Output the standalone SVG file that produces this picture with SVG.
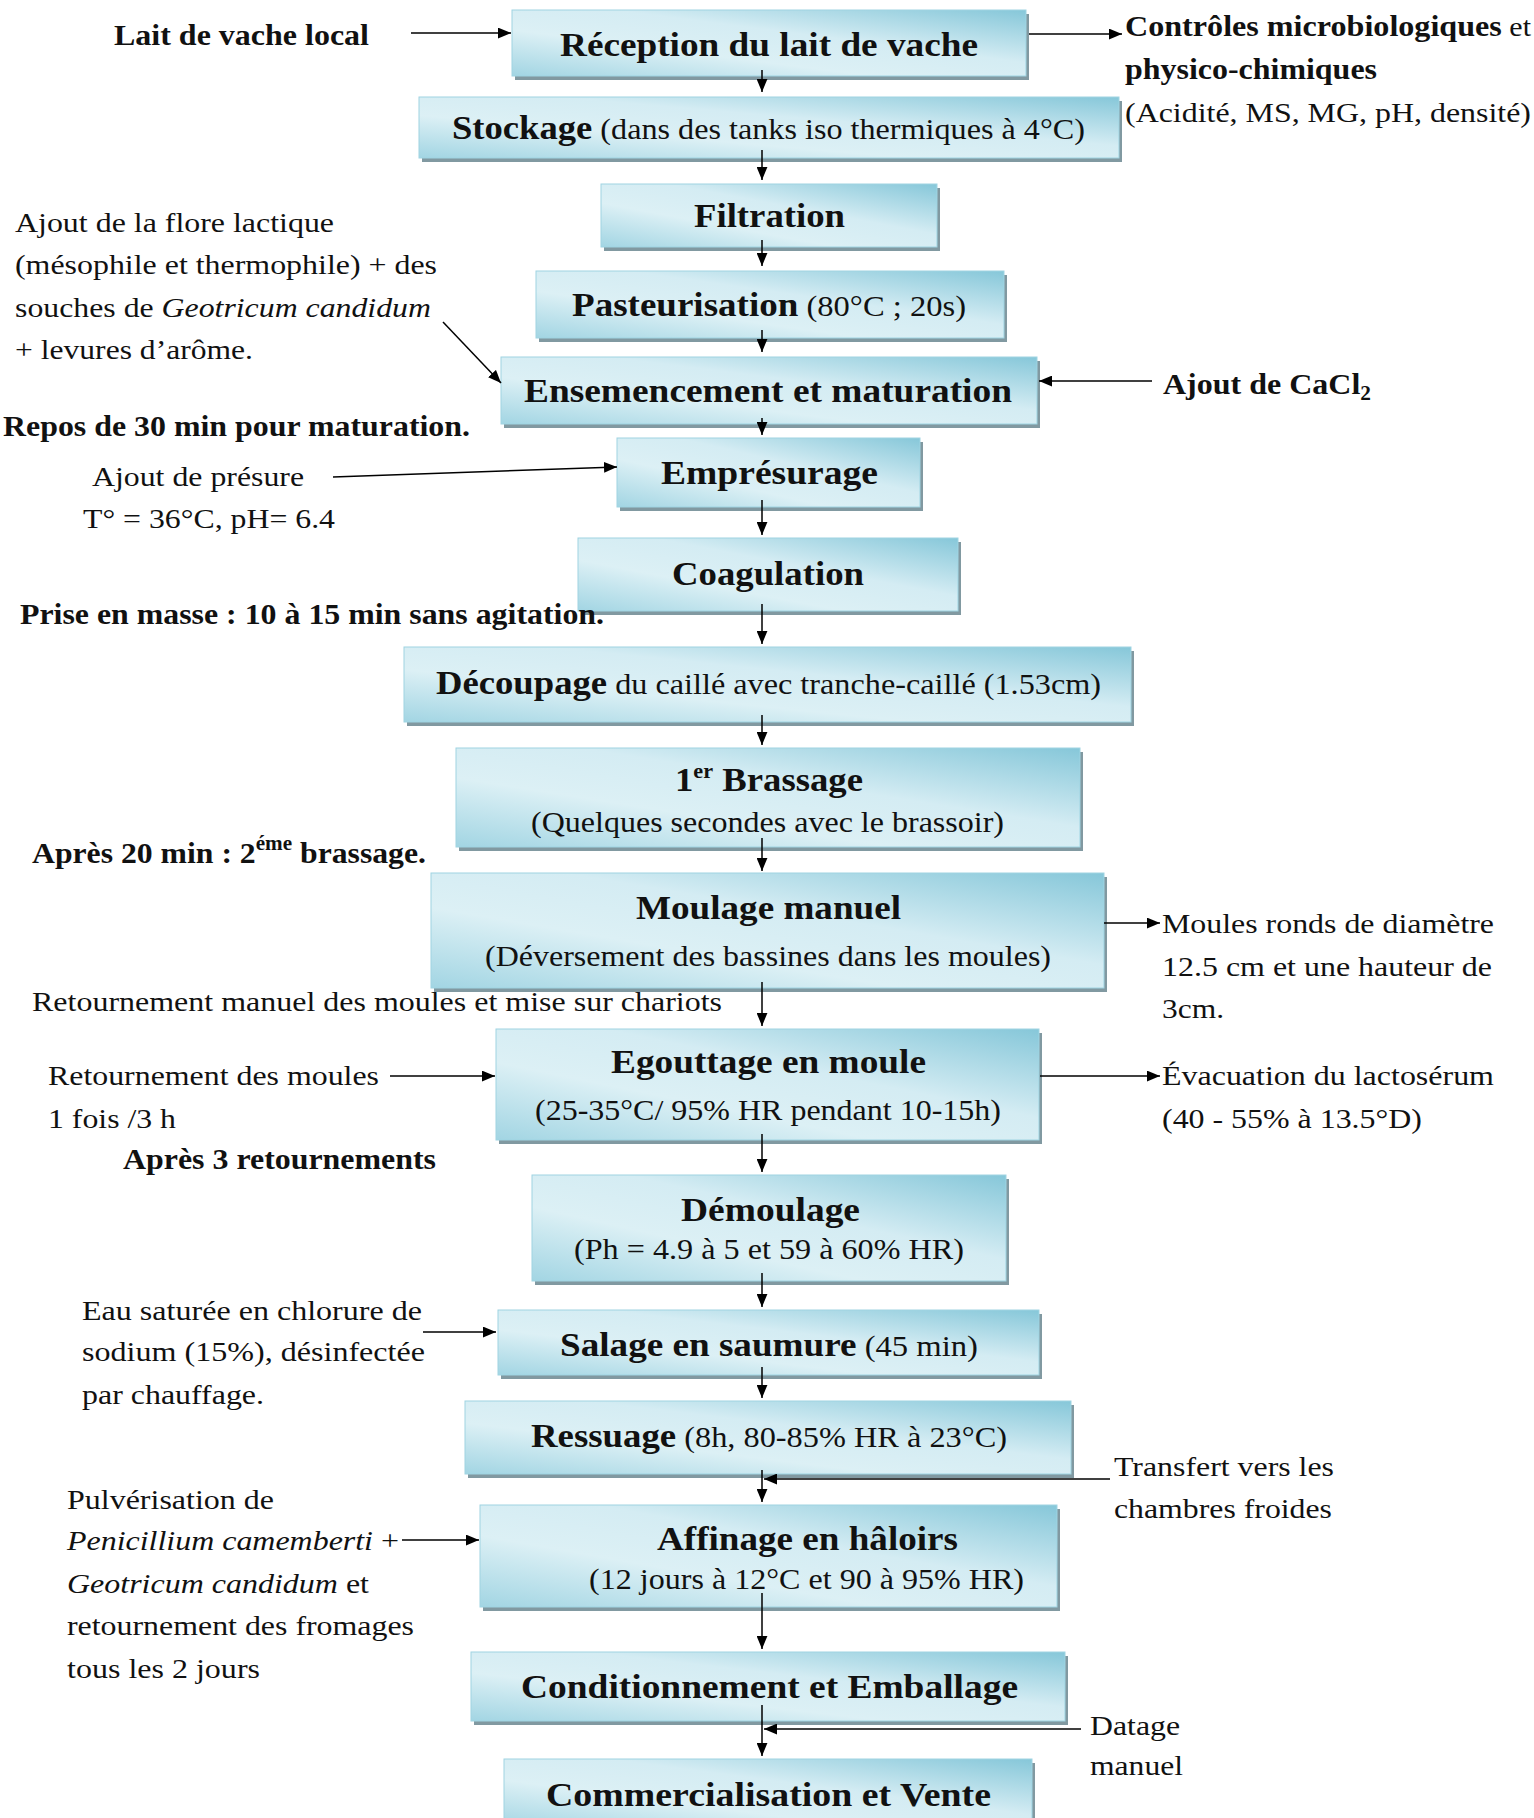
<svg xmlns="http://www.w3.org/2000/svg" width="1534" height="1818" viewBox="0 0 1534 1818">
<defs>
  <linearGradient id="boxg" x1="0" y1="1" x2="1" y2="0">
    <stop offset="0" stop-color="#a2d5e3"/>
    <stop offset="0.35" stop-color="#dcf0f5"/>
    <stop offset="0.6" stop-color="#d4ecf3"/>
    <stop offset="1" stop-color="#86c7d9"/>
  </linearGradient>
  <marker id="ah" viewBox="0 0 12 10" refX="12" refY="5" markerWidth="13" markerHeight="11" markerUnits="userSpaceOnUse" orient="auto">
    <path d="M0,0 L12,5 L0,10 z" fill="#000"/>
  </marker>
</defs>
<style>
  text{font-family:"Liberation Serif","Times New Roman",serif;fill:#111}
  .b{font-size:33px;font-weight:bold}
  .r{font-size:29px;font-weight:normal}
  .sb{font-size:30px;font-weight:bold}
  .sr{font-size:28px;font-weight:normal}
  .i{font-style:italic}
  .sh{fill:#8199a1}
  .bx{fill:url(#boxg);stroke:#9fd4e2;stroke-width:1}
  .c{stroke:#000;stroke-width:1.5;fill:none;marker-end:url(#ah)}
</style>
<rect width="1534" height="1818" fill="#fff"/>

<g id="n-reception">
  <rect class="sh" x="515" y="14" width="514" height="66"/>
  <rect class="bx" x="512" y="10" width="514" height="66"/>
  <text class="b" x="560" y="56" textLength="418" lengthAdjust="spacingAndGlyphs">Réception du lait de vache</text>
</g>
<g id="n-stockage">
  <rect class="sh" x="422" y="101" width="700" height="61"/>
  <rect class="bx" x="419" y="97" width="700" height="61"/>
  <text class="b" x="452" y="139" textLength="633" lengthAdjust="spacingAndGlyphs">Stockage<tspan class="r"> (dans des tanks iso thermiques à 4°C)</tspan></text>
</g>
<g id="n-filtration">
  <rect class="sh" x="604" y="188" width="336" height="63"/>
  <rect class="bx" x="601" y="184" width="336" height="63"/>
  <text class="b" x="694" y="227" textLength="151" lengthAdjust="spacingAndGlyphs">Filtration</text>
</g>
<g id="n-pasteurisation">
  <rect class="sh" x="539" y="275" width="468" height="67"/>
  <rect class="bx" x="536" y="271" width="468" height="67"/>
  <text class="b" x="572" y="316" textLength="394" lengthAdjust="spacingAndGlyphs">Pasteurisation<tspan class="r"> (80°C ; 20s)</tspan></text>
</g>
<g id="n-ensemencement">
  <rect class="sh" x="504" y="361" width="536" height="67"/>
  <rect class="bx" x="501" y="357" width="536" height="67"/>
  <text class="b" x="524" y="402" textLength="488" lengthAdjust="spacingAndGlyphs">Ensemencement et maturation</text>
</g>
<g id="n-empresurage">
  <rect class="sh" x="620" y="442" width="303" height="69"/>
  <rect class="bx" x="617" y="438" width="303" height="69"/>
  <text class="b" x="661" y="484" textLength="217" lengthAdjust="spacingAndGlyphs">Emprésurage</text>
</g>
<g id="n-coagulation">
  <rect class="sh" x="581" y="542" width="380" height="73"/>
  <rect class="bx" x="578" y="538" width="380" height="73"/>
  <text class="b" x="672" y="585" textLength="192" lengthAdjust="spacingAndGlyphs">Coagulation</text>
</g>
<g id="n-decoupage">
  <rect class="sh" x="407" y="651" width="727" height="75"/>
  <rect class="bx" x="404" y="647" width="727" height="75"/>
  <text class="b" x="436" y="694" textLength="665" lengthAdjust="spacingAndGlyphs">Découpage<tspan class="r"> du caillé avec tranche-caillé (1.53cm)</tspan></text>
</g>
<g id="n-brassage">
  <rect class="sh" x="459" y="752" width="624" height="99"/>
  <rect class="bx" x="456" y="748" width="624" height="99"/>
  <text class="b" x="675" y="791" textLength="188" lengthAdjust="spacingAndGlyphs">1<tspan font-size="20" dy="-13">er</tspan><tspan dy="13"> Brassage</tspan></text>
  <text class="r" x="531" y="832" textLength="473" lengthAdjust="spacingAndGlyphs">(Quelques secondes avec le brassoir)</text>
</g>
<g id="n-moulage">
  <rect class="sh" x="434" y="877" width="673" height="115"/>
  <rect class="bx" x="431" y="873" width="673" height="115"/>
  <text class="b" x="636" y="919" textLength="265" lengthAdjust="spacingAndGlyphs">Moulage manuel</text>
  <text class="r" x="485" y="966" textLength="566" lengthAdjust="spacingAndGlyphs">(Déversement des bassines dans les moules)</text>
</g>
<g id="n-egouttage">
  <rect class="sh" x="499" y="1033" width="543" height="111"/>
  <rect class="bx" x="496" y="1029" width="543" height="111"/>
  <text class="b" x="611" y="1073" textLength="315" lengthAdjust="spacingAndGlyphs">Egouttage en moule</text>
  <text class="r" x="535" y="1120" textLength="466" lengthAdjust="spacingAndGlyphs">(25-35°C/ 95% HR pendant 10-15h)</text>
</g>
<g id="n-demoulage">
  <rect class="sh" x="535" y="1179" width="474" height="106"/>
  <rect class="bx" x="532" y="1175" width="474" height="106"/>
  <text class="b" x="681" y="1221" textLength="179" lengthAdjust="spacingAndGlyphs">Démoulage</text>
  <text class="r" x="574" y="1259" textLength="390" lengthAdjust="spacingAndGlyphs">(Ph = 4.9 à 5 et 59 à 60% HR)</text>
</g>
<g id="n-salage">
  <rect class="sh" x="501" y="1314" width="541" height="65"/>
  <rect class="bx" x="498" y="1310" width="541" height="65"/>
  <text class="b" x="560" y="1356" textLength="418" lengthAdjust="spacingAndGlyphs">Salage en saumure<tspan class="r"> (45 min)</tspan></text>
</g>
<g id="n-ressuage">
  <rect class="sh" x="468" y="1405" width="606" height="73"/>
  <rect class="bx" x="465" y="1401" width="606" height="73"/>
  <text class="b" x="531" y="1447" textLength="476" lengthAdjust="spacingAndGlyphs">Ressuage<tspan class="r"> (8h, 80-85% HR à 23°C)</tspan></text>
</g>
<g id="n-affinage">
  <rect class="sh" x="483" y="1509" width="577" height="102"/>
  <rect class="bx" x="480" y="1505" width="577" height="102"/>
  <text class="b" x="657" y="1550" textLength="301" lengthAdjust="spacingAndGlyphs">Affinage en hâloirs</text>
  <text class="r" x="589" y="1589" textLength="435" lengthAdjust="spacingAndGlyphs">(12 jours à 12°C et 90 à 95% HR)</text>
</g>
<g id="n-conditionnement">
  <rect class="sh" x="474" y="1656" width="594" height="69"/>
  <rect class="bx" x="471" y="1652" width="594" height="69"/>
  <text class="b" x="521" y="1698" textLength="497" lengthAdjust="spacingAndGlyphs">Conditionnement et Emballage</text>
</g>
<g id="n-commercialisation">
  <rect class="sh" x="507" y="1763" width="528" height="70"/>
  <rect class="bx" x="504" y="1759" width="528" height="70"/>
  <text class="b" x="546" y="1806" textLength="445" lengthAdjust="spacingAndGlyphs">Commercialisation et Vente</text>
</g>

<g id="l-lait">
  <text class="sb" x="114" y="45" textLength="255" lengthAdjust="spacingAndGlyphs">Lait de vache local</text>
</g>
<g id="l-controles">
  <text class="sb" x="1125" y="36" textLength="406" lengthAdjust="spacingAndGlyphs">Contrôles microbiologiques<tspan class="sr"> et</tspan></text>
  <text class="sb" x="1125" y="79" textLength="252" lengthAdjust="spacingAndGlyphs">physico-chimiques</text>
  <text class="sr" x="1125" y="122" textLength="406" lengthAdjust="spacingAndGlyphs">(Acidité, MS, MG, pH, densité)</text>
</g>
<g id="l-flore">
  <text class="sr" x="15" y="232" textLength="319" lengthAdjust="spacingAndGlyphs">Ajout de la flore lactique</text>
  <text class="sr" x="15" y="274" textLength="422" lengthAdjust="spacingAndGlyphs">(mésophile et thermophile) + des</text>
  <text class="sr" x="15" y="317" textLength="416" lengthAdjust="spacingAndGlyphs">souches de <tspan class="i">Geotricum candidum</tspan></text>
  <text class="sr" x="15" y="359" textLength="238" lengthAdjust="spacingAndGlyphs">+ levures d’arôme.</text>
</g>
<g id="l-cacl2">
  <text class="sb" x="1163" y="394" textLength="208" lengthAdjust="spacingAndGlyphs">Ajout de CaCl<tspan font-size="20" dy="6">2</tspan></text>
</g>
<g id="l-repos">
  <text class="sb" x="3" y="436" textLength="467" lengthAdjust="spacingAndGlyphs">Repos de 30 min pour maturation.</text>
</g>
<g id="l-presure">
  <text class="sr" x="92" y="486" textLength="212" lengthAdjust="spacingAndGlyphs">Ajout de présure</text>
  <text class="sr" x="83" y="528" textLength="252" lengthAdjust="spacingAndGlyphs">T° = 36°C, pH= 6.4</text>
</g>
<g id="l-prise">
  <text class="sb" x="20" y="624" textLength="584" lengthAdjust="spacingAndGlyphs">Prise en masse : 10 à 15 min sans agitation.</text>
</g>
<g id="l-apres20">
  <text class="sb" x="32" y="863" textLength="394" lengthAdjust="spacingAndGlyphs">Après 20 min : 2<tspan font-size="20" dy="-13">éme</tspan><tspan dy="13"> brassage.</tspan></text>
</g>
<g id="l-moules">
  <text class="sr" x="1162" y="933" textLength="332" lengthAdjust="spacingAndGlyphs">Moules ronds de diamètre</text>
  <text class="sr" x="1162" y="976" textLength="330" lengthAdjust="spacingAndGlyphs">12.5 cm et une hauteur de</text>
  <text class="sr" x="1162" y="1018" textLength="62" lengthAdjust="spacingAndGlyphs">3cm.</text>
</g>
<g id="l-retournement-manuel">
  <text class="sr" x="32" y="1011" textLength="690" lengthAdjust="spacingAndGlyphs">Retournement manuel des moules et mise sur chariots</text>
</g>
<g id="l-retournement">
  <text class="sr" x="48" y="1085" textLength="331" lengthAdjust="spacingAndGlyphs">Retournement des moules</text>
  <text class="sr" x="48" y="1128" textLength="128" lengthAdjust="spacingAndGlyphs">1 fois /3 h</text>
</g>
<g id="l-apres3">
  <text class="sb" x="123" y="1169" textLength="313" lengthAdjust="spacingAndGlyphs">Après 3 retournements</text>
</g>
<g id="l-evacuation">
  <text class="sr" x="1162" y="1085" textLength="332" lengthAdjust="spacingAndGlyphs">Évacuation du lactosérum</text>
  <text class="sr" x="1162" y="1128" textLength="260" lengthAdjust="spacingAndGlyphs">(40 - 55% à 13.5°D)</text>
</g>
<g id="l-eau">
  <text class="sr" x="82" y="1320" textLength="340" lengthAdjust="spacingAndGlyphs">Eau saturée en chlorure de</text>
  <text class="sr" x="82" y="1361" textLength="343" lengthAdjust="spacingAndGlyphs">sodium (15%), désinfectée</text>
  <text class="sr" x="82" y="1404" textLength="182" lengthAdjust="spacingAndGlyphs">par chauffage.</text>
</g>
<g id="l-transfert">
  <text class="sr" x="1114" y="1476" textLength="220" lengthAdjust="spacingAndGlyphs">Transfert vers les</text>
  <text class="sr" x="1114" y="1518" textLength="218" lengthAdjust="spacingAndGlyphs">chambres froides</text>
</g>
<g id="l-pulverisation">
  <text class="sr" x="67" y="1509" textLength="207" lengthAdjust="spacingAndGlyphs">Pulvérisation de</text>
  <text class="sr" x="67" y="1550" textLength="332" lengthAdjust="spacingAndGlyphs"><tspan class="i">Penicillium camemberti</tspan> +</text>
  <text class="sr" x="67" y="1593" textLength="302" lengthAdjust="spacingAndGlyphs"><tspan class="i">Geotricum candidum</tspan> et</text>
  <text class="sr" x="67" y="1635" textLength="347" lengthAdjust="spacingAndGlyphs">retournement des fromages</text>
  <text class="sr" x="67" y="1678" textLength="193" lengthAdjust="spacingAndGlyphs">tous les 2 jours</text>
</g>
<g id="l-datage">
  <text class="sr" x="1090" y="1735" textLength="90" lengthAdjust="spacingAndGlyphs">Datage</text>
  <text class="sr" x="1090" y="1775" textLength="93" lengthAdjust="spacingAndGlyphs">manuel</text>
</g>

<g id="connectors">
  <line class="c" x1="762" y1="70" x2="762" y2="92"/>
  <line class="c" x1="762" y1="150" x2="762" y2="180"/>
  <line class="c" x1="762" y1="240" x2="762" y2="266"/>
  <line class="c" x1="762" y1="330" x2="762" y2="352"/>
  <line class="c" x1="762" y1="418" x2="762" y2="435"/>
  <line class="c" x1="762" y1="500" x2="762" y2="535"/>
  <line class="c" x1="762" y1="604" x2="762" y2="644"/>
  <line class="c" x1="762" y1="715" x2="762" y2="745"/>
  <line class="c" x1="762" y1="838" x2="762" y2="871"/>
  <line class="c" x1="762" y1="982" x2="762" y2="1026"/>
  <line class="c" x1="762" y1="1134" x2="762" y2="1172"/>
  <line class="c" x1="762" y1="1273" x2="762" y2="1307"/>
  <line class="c" x1="762" y1="1367" x2="762" y2="1398"/>
  <line class="c" x1="762" y1="1470" x2="762" y2="1502"/>
  <line class="c" x1="762" y1="1593" x2="762" y2="1649"/>
  <line class="c" x1="762" y1="1705" x2="762" y2="1756"/>
  <line class="c" x1="411" y1="33" x2="511" y2="33"/>
  <line class="c" x1="1029" y1="34" x2="1122" y2="34"/>
  <line class="c" x1="443" y1="322" x2="501" y2="383"/>
  <line class="c" x1="1152" y1="381" x2="1039" y2="381"/>
  <line class="c" x1="333" y1="477" x2="617" y2="467"/>
  <line class="c" x1="1104" y1="923" x2="1160" y2="923"/>
  <line class="c" x1="390" y1="1076" x2="495" y2="1076"/>
  <line class="c" x1="1040" y1="1076" x2="1160" y2="1076"/>
  <line class="c" x1="423" y1="1332" x2="496" y2="1332"/>
  <line class="c" x1="1110" y1="1479" x2="764" y2="1479"/>
  <line class="c" x1="402" y1="1540" x2="479" y2="1540"/>
  <line class="c" x1="1081" y1="1729" x2="764" y2="1729"/>
</g>
</svg>
